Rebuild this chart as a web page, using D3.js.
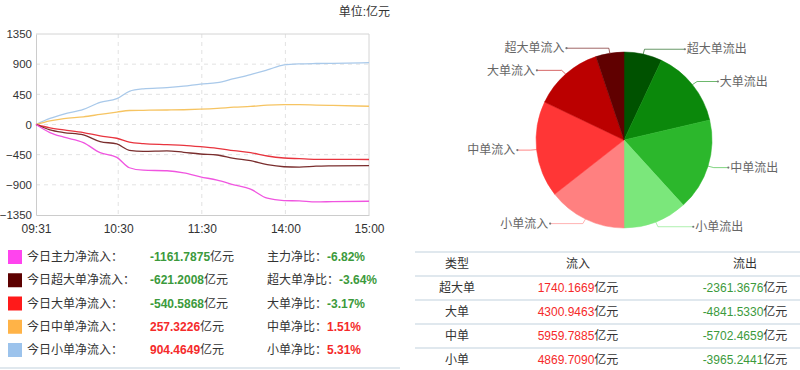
<!DOCTYPE html>
<html>
<head>
<meta charset="utf-8">
<script src="https://cdn.jsdelivr.net/npm/d3@7/dist/d3.min.js"></script>
<style>
  html, body { margin: 0; padding: 0; background: #fff; }
  svg { display: block; font-family: "Liberation Sans", "Noto Sans CJK SC", sans-serif; }
</style>
</head>
<body>
<svg id="chart" width="800" height="370"></svg>
<script>
// ---------------- data ----------------
const times = ["09:31","09:41","09:51","10:05","10:17","10:29","10:38","10:48","11:05","11:17","11:29",
               "13:11","13:23","13:35","13:47","13:59","14:10","14:22","14:34","15:00"];
const smallNet  = [0, 90, 155, 225, 330, 385, 495, 532, 550, 572, 603, 625, 685, 745, 815, 888, 905, 910, 912, 922];
const mediumNet = [0, 55, 89, 115, 150, 185, 209, 212, 216, 220, 228, 240, 258, 270, 288, 295, 295, 290, 285, 272];
const mainNet   = [0, -120, -190, -270, -420, -490, -645, -682, -690, -720, -780, -830, -900, -965, -1100, -1135, -1140, -1155, -1150, -1145];
const superNet  = [0, -80, -120, -155, -255, -290, -385, -400, -392, -415, -440, -455, -505, -540, -600, -630, -635, -622, -617, -612];
const largeNet  = [0, -50, -80, -120, -170, -205, -262, -285, -300, -310, -330, -355, -390, -420, -470, -500, -510, -520, -520, -522];

const yTicks = [-1350, -900, -450, 0, 450, 900, 1350];
const xTickLabels = ["09:31", "10:30", "11:30", "14:00", "15:00"];

const legendNames  = ["今日主力净流入：", "今日超大单净流入：", "今日大单净流入：", "今日中单净流入：", "今日小单净流入："];
const legendValues = [-1161.7875, -621.2008, -540.5868, 257.3226, 904.4649];
const ratioNames   = ["主力净比：", "超大单净比：", "大单净比：", "中单净比：", "小单净比："];
const ratioValues  = [-6.82, -3.64, -3.17, 1.51, 5.31];

const tableTypes = ["超大单", "大单", "中单", "小单"];
const inflow  = [1740.1669, 4300.9463, 5959.7885, 4869.7090];
const outflow = [-2361.3676, -4841.5330, -5702.4659, -3965.2441];

// ---------------- styles ----------------
const lineColors   = ["#f055e0", "#7a2e2e", "#e8343e", "#f6c462", "#a9c9ea"];
const legendColors = ["#ff44ee", "#5c0000", "#ff1a1a", "#ffb347", "#9cc3ec"];
const outColors = ["#005200", "#0b880b", "#2cb72c", "#7be77b"];
const inColors  = ["#600000", "#bb0000", "#ff3636", "#ff8080"];
const GREEN = "#3c9a3c", RED = "#f52a2a", TEXT = "#333";

const svg = d3.select("#chart");

// ---------------- line chart ----------------
function toIdx(t) {
  const [h, m] = t.split(":").map(Number);
  const mins = h * 60 + m;
  return mins <= 690 ? mins - 571 : mins - 781 + 120;
}
const plot = { left: 36, right: 369, top: 34, bottom: 215 };
const x = d3.scaleLinear().domain([0, 239]).range([plot.left, plot.right]);
const y = d3.scaleLinear().domain([-1350, 1350]).range([plot.bottom, plot.top]);

const g = svg.append("g");
// grid
g.selectAll("line.hg").data(yTicks.filter(v => Math.abs(v) < 1350)).enter().append("line")
  .attr("x1", plot.left).attr("x2", plot.right)
  .attr("y1", d => y(d)).attr("y2", d => y(d))
  .attr("stroke", "#e2e2e2").attr("stroke-dasharray", "4,4");
g.selectAll("line.vg").data(xTickLabels.slice(1, -1)).enter().append("line")
  .attr("y1", plot.top).attr("y2", plot.bottom)
  .attr("x1", d => x(toIdx(d))).attr("x2", d => x(toIdx(d)))
  .attr("stroke", "#e2e2e2").attr("stroke-dasharray", "4,4");
// border top/right
g.append("line").attr("x1", plot.left).attr("x2", plot.right).attr("y1", plot.top).attr("y2", plot.top).attr("stroke", "#d4d4d4");
g.append("line").attr("x1", plot.right).attr("x2", plot.right).attr("y1", plot.top).attr("y2", plot.bottom).attr("stroke", "#d4d4d4");

// axes
const yAxis = d3.axisLeft(y).tickValues(yTicks).tickFormat(d3.format("d")).tickSize(0).tickPadding(4);
const ya = g.append("g").attr("transform", `translate(${plot.left},0)`).call(yAxis);
ya.select(".domain").attr("stroke", "#cccccc");
ya.selectAll("text").attr("font-size", 11.5).attr("fill", TEXT).attr("font-family", "Liberation Sans, sans-serif");

const xAxis = d3.axisBottom(x).tickValues(xTickLabels.map(toIdx))
  .tickFormat((d, i) => xTickLabels[i]).tickSize(0).tickPadding(9);
const xa = g.append("g").attr("transform", `translate(0,${plot.bottom})`).call(xAxis);
xa.select(".domain").attr("stroke", "#cccccc");
xa.selectAll("text").attr("font-size", 12).attr("fill", TEXT).attr("font-family", "Liberation Sans, sans-serif");

// lines
const seriesList = [mainNet, superNet, largeNet, mediumNet, smallNet];
const line = d3.line().x((d, i) => x(toIdx(times[i]))).y(d => y(d)).curve(d3.curveMonotoneX);
[4, 3, 2, 1, 0].forEach(k => {
  g.append("path").datum(seriesList[k]).attr("d", line)
    .attr("fill", "none").attr("stroke", lineColors[k]).attr("stroke-width", 1.3);
});

// unit title
svg.append("text").attr("x", 390).attr("y", 12).attr("dy", "0.35em").attr("text-anchor", "end")
  .attr("font-size", 12).attr("fill", TEXT).text("单位:亿元");

// ---------------- legend ----------------
const rowY = d3.scalePoint().domain(d3.range(legendNames.length)).range([257, 350]);
const lg = svg.append("g");
legendNames.forEach((name, i) => {
  const yy = rowY(i);
  lg.append("rect").attr("x", 8).attr("y", yy - 7).attr("width", 14).attr("height", 14).attr("fill", legendColors[i]);
  lg.append("text").attr("x", 27).attr("y", yy).attr("dy", "0.35em").attr("font-size", 12).attr("fill", TEXT).text(name);
  const v = legendValues[i];
  const t = lg.append("text").attr("x", 150).attr("y", yy).attr("dy", "0.35em").attr("font-size", 12);
  t.append("tspan").attr("font-weight", "bold").attr("fill", v < 0 ? GREEN : RED).text(v.toFixed(4));
  t.append("tspan").attr("fill", TEXT).text("亿元");
  const r = ratioValues[i];
  const t2 = lg.append("text").attr("x", 267).attr("y", yy).attr("dy", "0.35em").attr("font-size", 12);
  t2.append("tspan").attr("fill", TEXT).text(ratioNames[i]);
  t2.append("tspan").attr("font-weight", "bold").attr("fill", r < 0 ? GREEN : RED).text(r.toFixed(2) + "%");
});
lg.append("line").attr("x1", 0).attr("x2", 400).attr("y1", 368).attr("y2", 368).attr("stroke", "#d6e0e8").attr("stroke-width", 1.5);

// ---------------- pie ----------------
const pieData = [];
tableTypes.forEach((t, i) => pieData.push({ name: t + "流出", value: Math.abs(outflow[i]), color: outColors[i] }));
tableTypes.slice().reverse().forEach((t, j) => {
  const i = tableTypes.length - 1 - j;
  pieData.push({ name: t + "流入", value: inflow[i], color: inColors[i] });
});
const cx = 624, cy = 140, R = 88;
const arcs = d3.pie().sort(null).value(d => d.value)(pieData);
const arc = d3.arc().innerRadius(0).outerRadius(R);
const pg = svg.append("g").attr("transform", `translate(${cx},${cy})`);
pg.selectAll("path.slice").data(arcs).enter().append("path")
  .attr("d", arc).attr("fill", d => d.data.color).attr("stroke", d => d.data.color).attr("stroke-width", 0.5);

arcs.forEach(a => {
  const m = (a.startAngle + a.endAngle) / 2;
  const s = Math.sin(m), c = Math.cos(m);
  const right = s >= 0;
  const p0 = [R * s, -R * c];
  const p1 = [(R + 6) * s, -(R + 6) * c];
  const ty = -(R + 5) * c;
  const tx = (right ? 1 : -1) * (50 + 59 * Math.abs(s));
  const p2 = [tx + (right ? -2 : 2), ty];
  pg.append("path").attr("d", d3.line()([p0, [p1[0], ty], p2]))
    .attr("fill", "none").attr("stroke", a.data.color).attr("stroke-opacity", 0.6).attr("stroke-width", 1);
  pg.append("circle").attr("cx", p2[0]).attr("cy", p2[1]).attr("r", 1.1).attr("fill", "#777");
  pg.append("text").attr("x", tx).attr("y", ty).attr("dy", "0.35em")
    .attr("text-anchor", right ? "start" : "end").attr("font-size", 12).attr("fill", "#666")
    .text(a.data.name);
});

// ---------------- table ----------------
const tg = svg.append("g");
const colX = [457, 578, 745];
const tRowY = d3.scaleLinear().domain([0, 4]).range([263.5, 359.5]);
const tLineY = d3.scaleLinear().domain([0, 5]).range([252, 372]);
d3.range(5).forEach(k => {
  tg.append("line").attr("x1", 415).attr("x2", 800).attr("y1", tLineY(k)).attr("y2", tLineY(k))
    .attr("stroke", "#d6e0e8").attr("stroke-width", 1.5);
});
["类型", "流入", "流出"].forEach((h, j) => {
  tg.append("text").attr("x", colX[j]).attr("y", tRowY(0)).attr("dy", "0.35em").attr("text-anchor", "middle")
    .attr("font-size", 12).attr("fill", TEXT).text(h);
});
tableTypes.forEach((t, i) => {
  const yy = tRowY(i + 1);
  tg.append("text").attr("x", colX[0]).attr("y", yy).attr("dy", "0.35em").attr("text-anchor", "middle")
    .attr("font-size", 12).attr("fill", TEXT).text(t);
  const a = tg.append("text").attr("x", colX[1]).attr("y", yy).attr("dy", "0.35em").attr("text-anchor", "middle").attr("font-size", 12);
  a.append("tspan").attr("fill", RED).text(inflow[i].toFixed(4));
  a.append("tspan").attr("fill", TEXT).text("亿元");
  const b = tg.append("text").attr("x", colX[2]).attr("y", yy).attr("dy", "0.35em").attr("text-anchor", "middle").attr("font-size", 12);
  b.append("tspan").attr("fill", GREEN).text(outflow[i].toFixed(4));
  b.append("tspan").attr("fill", TEXT).text("亿元");
});
</script>
</body>
</html>
